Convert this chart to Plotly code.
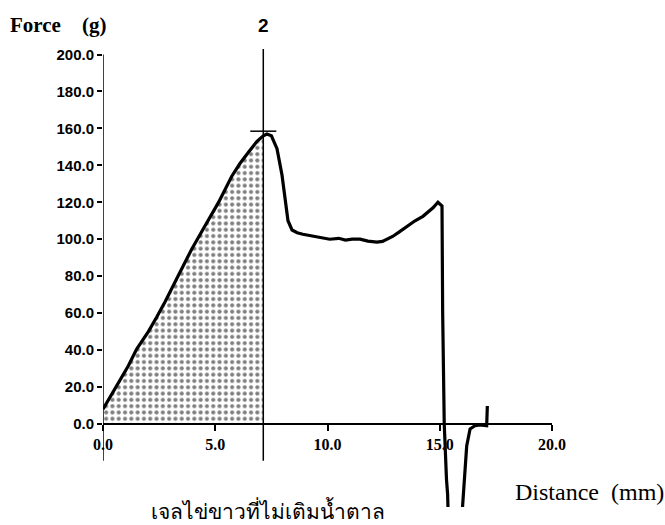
import plotly.graph_objects as go

# ---- data ----
distance_mm = [0.0, 0.5, 1.13, 1.5, 2.02, 2.4, 2.76, 3.35, 3.95, 4.54, 5.14, 5.73,
               6.1, 6.47, 6.86, 7.14, 7.3, 7.5, 7.75, 7.97, 8.1, 8.24, 8.42, 8.65, 8.9, 9.2,
               9.5, 9.8, 10.1, 10.5, 10.8, 11.1, 11.45, 11.8, 12.2, 12.45, 12.65, 12.9, 13.2,
               13.54, 13.9, 14.25, 14.5, 14.7, 14.92, 15.1, 15.13, 15.2, 15.3, 15.35, 15.4,
               15.95, 16.02, 16.1, 16.2, 16.35, 16.57, 16.8, 17.09, 17.12]
force_g = [8.0, 18.5, 31.5, 40.5, 50.0, 58.0, 66.0, 80.2, 94.6, 107.2, 119.8, 134.0,
           141.0, 147.0, 153.0, 156.0, 157.0, 156.0, 149.0, 135.0, 122.0,
           110.0, 105.0, 103.5, 102.7, 102.0, 101.5, 100.5, 100.0, 100.5, 99.5, 100.0,
           100.0, 99.0, 98.4, 98.8, 100.0, 101.5, 104.0, 107.0, 110.0, 112.4, 115.0, 117.0,
           120.0, 118.0, 60.0, 0.0, -30.0, -38.0, -60.0, -60.0, -44.0, -30.0, -12.0, -2.7,
           -1.0, -0.5, -1.0, 9.7]

area_end_mm = 7.14          # end of shaded area (marker "2")
peak_force_g = 158.5        # horizontal peak marker
marker_positions_mm = [0.0, 7.14]
marker_top_g = 203
marker_bottom_g = -20
marker_label = "2"

y_ticks = [0, 20, 40, 60, 80, 100, 120, 140, 160, 180, 200]
y_tick_text = [f"{v:.1f}" for v in y_ticks]
x_ticks = [0, 5, 10, 15, 20]
x_tick_text = [f"{v:.1f}" for v in x_ticks]

y_range = [-45, 216]
x_range = [0, 20]

# shaded part of the curve
area_x = [d for d in distance_mm if d <= area_end_mm]
area_y = [f for d, f in zip(distance_mm, force_g) if d <= area_end_mm]

fig = go.Figure()

fig.add_trace(go.Scatter(
    x=area_x, y=area_y, mode="lines", fill="tozeroy",
    line=dict(width=0, color="black"),
    fillcolor="rgba(255,255,255,0)",
    fillpattern=dict(shape=".", size=6.3, solidity=0.33, fgcolor="black",
                     bgcolor="rgba(255,255,255,0)"),
    hoverinfo="skip", showlegend=False,
))

fig.add_trace(go.Scatter(
    x=distance_mm, y=force_g, mode="lines",
    line=dict(width=3.2, color="black"),
    showlegend=False,
))

# y axis line (0..200) with marker extension below the x axis
fig.add_shape(type="line", xref="x", yref="y", x0=marker_positions_mm[0], x1=marker_positions_mm[0],
              y0=marker_bottom_g, y1=y_ticks[-1], line=dict(color="black", width=1.5))
fig.add_shape(type="line", xref="x", yref="y", x0=marker_positions_mm[1], x1=marker_positions_mm[1],
              y0=marker_bottom_g, y1=marker_top_g, line=dict(color="black", width=1.5))
fig.add_shape(type="line", xref="x", yref="y", x0=area_end_mm - 0.58, x1=area_end_mm + 0.58,
              y0=peak_force_g, y1=peak_force_g, line=dict(color="black", width=1.5))

x_pos = (0 - y_range[0]) / (y_range[1] - y_range[0])

fig.update_layout(
    width=665, height=525,
    margin=dict(l=103, r=113, t=25, b=18),
    paper_bgcolor="white", plot_bgcolor="white",
    xaxis=dict(range=x_range, anchor="free", position=x_pos, showline=True,
               linecolor="black", linewidth=1.5, ticks="outside", ticklen=6,
               tickcolor="black", tickwidth=1.5, tickvals=x_ticks, ticktext=x_tick_text,
               showgrid=False, zeroline=False,
               tickfont=dict(family="Liberation Serif", size=16, color="black", weight="bold")),
    yaxis=dict(range=y_range, showline=False, ticks="outside", ticklen=5,
               tickcolor="black", tickwidth=1.5, tickvals=y_ticks, ticktext=y_tick_text,
               showgrid=False, zeroline=False,
               tickfont=dict(family="Liberation Sans", size=15,
                             color="black", weight="bold")),
)

fig.add_annotation(text="Force    (g)", xref="paper", yref="paper", x=-0.2115, y=1.0,
                   xanchor="left", yanchor="middle", showarrow=False,
                   font=dict(family="Liberation Serif", size=21, color="black", weight="bold"))
fig.add_annotation(text=marker_label, xref="x", yref="paper", x=marker_positions_mm[1], y=1.0,
                   xanchor="center", yanchor="middle", showarrow=False,
                   font=dict(family="Liberation Sans", size=19, color="black", weight="bold"))
fig.add_annotation(text="Distance  (mm)", xref="paper", yref="paper", x=1.255, y=0.031,
                   xanchor="right", yanchor="middle", showarrow=False,
                   font=dict(family="Liberation Serif", size=24, color="black"))
fig.add_annotation(text="เจลไข่ขาวที่ไม่เติมน้ำตาล", xref="paper", yref="paper", x=0.367, y=-0.008,
                   xanchor="center", yanchor="middle", showarrow=False,
                   font=dict(family="Noto Sans, DejaVu Sans", size=21, color="black"))

fig.write_html("out.html")
